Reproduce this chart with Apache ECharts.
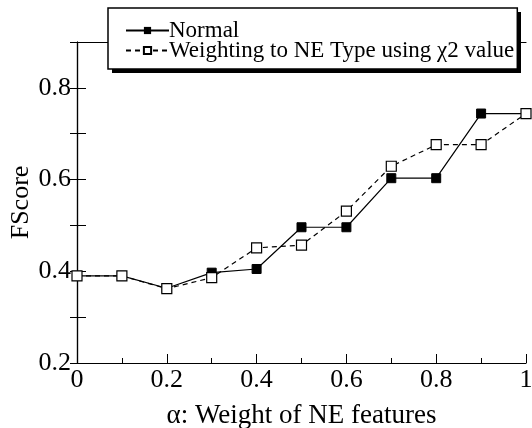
<!DOCTYPE html>
<html>
<head>
<meta charset="utf-8">
<script src="https://cdn.jsdelivr.net/npm/echarts@6/dist/echarts.min.js"></script>
<style>
  html, body { margin: 0; padding: 0; background: #fff; }
  #chart { width: 532px; height: 428px; }
</style>
</head>
<body>
<div id="chart"></div>
<script>
// alpha values on x axis
const alphas = [0, 0.1, 0.2, 0.3, 0.4, 0.5, 0.6, 0.7, 0.8, 0.9, 1.0]
// FScore, normal weighting
const normal = [0.39, 0.39, 0.363, 0.397, 0.405, 0.496, 0.496, 0.603, 0.603, 0.744, 0.744]
// FScore, weighting to NE type using chi2 value
const weighted = [0.39, 0.39, 0.362, 0.386, 0.451, 0.457, 0.531, 0.629, 0.676, 0.676, 0.744]
const yLabels = ['0.2', '0.4', '0.6', '0.8']

const font = "'Liberation Serif', 'Times New Roman', serif"
const myChart = echarts.init(document.getElementById('chart'))

const pair = (ys) => alphas.map((a, i) => [a, ys[i]])

const options = {
  animation: false,
  textStyle: { fontFamily: font, color: '#000' },
  grid: { left: 77, right: 6, top: 42, bottom: 65, outerBoundsMode: 'none', containLabel: false },
  // drop shadow behind the legend box
  graphic: {
    elements: [{
      type: 'rect',
      left: 112,
      top: 12,
      z: 50,
      shape: { width: 409, height: 61 },
      style: { fill: '#000' }
    }]
  },
  legend: {
    orient: 'vertical',
    left: 108,
    top: 8,
    padding: [11, 3, 7, 17],
    itemGap: -3,
    itemWidth: 43,
    itemHeight: 9,
    backgroundColor: '#fff',
    borderColor: '#000',
    borderWidth: 1.5,
    borderRadius: 0,
    z: 60,
    textStyle: { fontFamily: font, fontSize: 23, color: '#000', padding: [0, 0, 0, -5] },
    data: ['Normal', 'Weighting to NE Type using χ2 value']
  },
  xAxis: [{
    type: 'value',
    min: 0,
    max: 1,
    interval: 0.2,
    name: 'α: Weight of NE features',
    nameLocation: 'middle',
    nameGap: 39,
    nameMoveOverlap: false,
    nameTextStyle: { fontFamily: font, fontSize: 27, color: '#000' },
    axisLine: { lineStyle: { color: '#000', width: 1.2 } },
    axisTick: { inside: true, length: 9, lineStyle: { color: '#000' } },
    minorTick: { show: true, splitNumber: 2, length: 5, lineStyle: { color: '#000' } },
    axisLabel: { fontFamily: font, fontSize: 26, color: '#000', margin: 4 },
    splitLine: { show: false }
  }, {
    type: 'value',
    position: 'top',
    min: 0,
    max: 1,
    axisLine: { show: true, lineStyle: { color: '#000', width: 1.2 } },
    axisTick: { show: false },
    axisLabel: { show: false },
    splitLine: { show: false }
  }],
  yAxis: [{
    type: 'value',
    min: 0.2,
    max: 0.9,
    interval: 0.1,
    name: 'FScore',
    nameLocation: 'middle',
    nameGap: 43,
    nameMoveOverlap: false,
    nameTextStyle: { fontFamily: font, fontSize: 26, color: '#000' },
    axisLine: { show: true, lineStyle: { color: '#000', width: 1.2 } },
    axisTick: {
      inside: true,
      length: 9,
      lineStyle: { color: '#000' }
    },
    axisLabel: {
      fontFamily: font,
      fontSize: 26,
      color: '#000',
      margin: 6,
      formatter: (v) => {
        const s = v.toFixed(1)
        return yLabels.includes(s) ? s : ''
      }
    },
    splitLine: { show: false }
  }, {
    type: 'value',
    position: 'right',
    min: 0.2,
    max: 0.9,
    interval: 0.1,
    axisLine: { show: true, lineStyle: { color: '#000', width: 1.2 } },
    axisTick: { inside: true, length: 7, lineStyle: { color: '#000' } },
    axisLabel: { show: false },
    splitLine: { show: false }
  }],
  series: [{
    name: 'Normal',
    type: 'line',
    data: pair(normal),
    symbol: 'rect',
    symbolSize: 9,
    itemStyle: { color: '#000', borderColor: '#000' },
    lineStyle: { color: '#000', width: 1.2, type: 'solid' },
    z: 3
  }, {
    name: 'Weighting to NE Type using χ2 value',
    type: 'line',
    data: pair(weighted),
    symbol: 'rect',
    symbolSize: 10,
    itemStyle: { color: '#fff', borderColor: '#000', borderWidth: 1.2 },
    lineStyle: { color: '#000', width: 1.2, type: [5, 4] },
    z: 4
  }]
}

myChart.setOption(options)
</script>
</body>
</html>
